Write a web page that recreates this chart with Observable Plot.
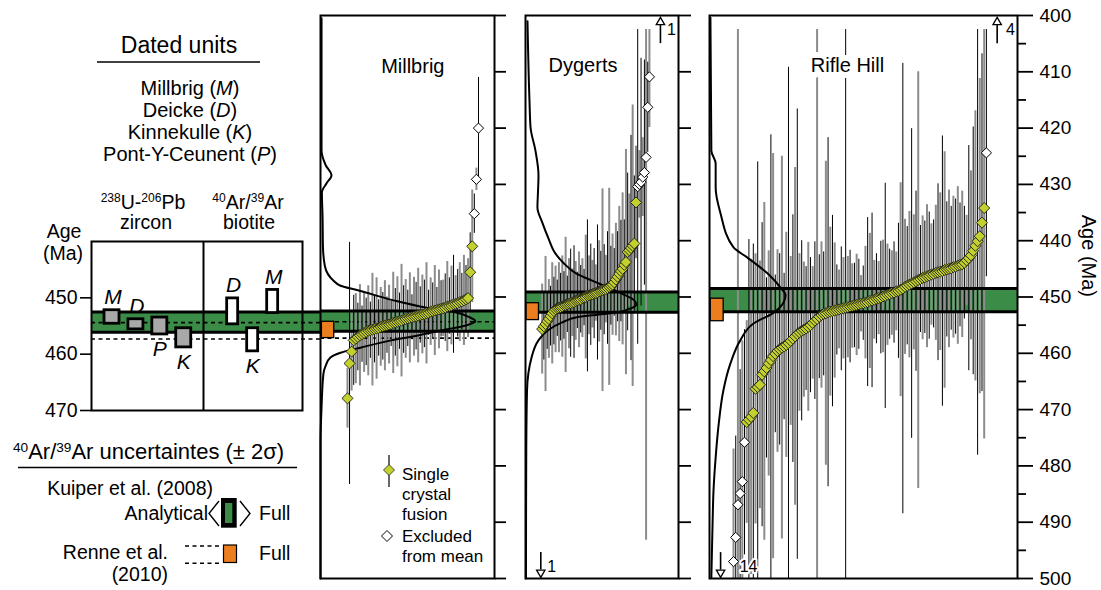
<!DOCTYPE html>
<html><head><meta charset="utf-8">
<script src="https://cdn.jsdelivr.net/npm/d3@7"></script>
<script src="https://cdn.jsdelivr.net/npm/@observablehq/plot@0.6"></script>
<style>
html,body{margin:0;padding:0;background:#fff;}
#wrap{position:relative;width:1101px;height:590px;overflow:hidden;background:#fff;font-family:"Liberation Sans",Arial,Helvetica,sans-serif;color:#000;}
.t{position:absolute;line-height:1;white-space:nowrap;}
.sup{font-size:0.62em;position:relative;top:-0.55em;}
</style></head><body><div id="wrap"></div>
<script>
// ---------------- DATA ----------------
// Left panel: dated units (ages in Ma)
const zirconUnits = ["M", "D", "P", "K"];
const zirconAgeMin = [452.2, 453.8, 453.5, 455.4];
const zirconAgeMax = [454.6, 455.6, 456.5, 458.8];
const zirconLabelSide = ["top", "top", "bottom", "bottom"];
const biotiteUnits = ["D", "K", "M"];
const biotiteAgeMin = [450.1, 455.4, 448.6];
const biotiteAgeMax = [454.7, 459.5, 452.7];
const biotiteLabelSide = ["top", "bottom", "top"];

// Kuiper et al. (2008) analytical band and Renne et al. (2010) full uncertainty per panel
const kuiperMillbrig = [452.5, 456.1];
const renneMillbrig = [454.4, 457.3];
const kuiperDygerts = [449.1, 452.7];
const renneDygerts = [451.1, 454.1];
const kuiperRifle = [448.5, 452.6];
const renneRifle = [450.3, 454.3];

// Millbrig single crystal fusion ages (ranked) and 2σ errors
const millbrigAges = [468.0, 461.8, 459.7, 457.7, 457.4, 457.1, 456.8, 456.6, 456.4, 456.2,
  456.0, 455.9, 455.8, 455.7, 455.6, 455.5, 455.3, 455.2, 455.1, 455.0,
  454.9, 454.8, 454.6, 454.5, 454.4, 454.3, 454.2, 454.0, 453.9, 453.8,
  453.7, 453.6, 453.5, 453.4, 453.3, 453.2, 453.1, 453.0, 452.9, 452.8,
  452.6, 452.5, 452.4, 452.3, 452.2, 452.1, 452.0, 451.9, 451.7, 451.6,
  451.5, 451.3, 451.2, 451.1, 450.9, 450.8, 450.6, 450.4, 450.2, 445.6,
  441.0, 435.2, 429.1, 420.0];
const millbrigErr = [5.3, 21.5, 7, 8, 8, 6, 9, 5, 7, 6,
  8, 5, 10, 6, 9, 5, 7, 6, 8, 5,
  7, 4, 9, 6, 8, 5, 10, 6, 7, 5,
  8, 4, 7, 6, 8.4, 5, 7, 6, 9, 4,
  6, 5, 8, 4, 7, 5, 5, 6, 8, 5,
  7, 8.7, 5, 6, 7, 5, 8, 6, 7, 7,
  10, 3.5, 2, 9];
const millbrigExcluded = [61, 62, 63];
const millbrigDensity = [[400.5, 0.006], [424, 0.006], [426.6, 0.03], [428.4, 0.063], [429.8, 0.035], [431.4, 0.008],
  [436, 0.012], [441, 0.014], [444.5, 0.025], [447.1, 0.075], [448, 0.115], [448.85, 0.22], [450.6, 0.42],
  [451.9, 0.61], [452.75, 0.78], [453.5, 0.85], [454.3, 0.89], [455.1, 0.83], [455.95, 0.69], [456.85, 0.56],
  [457.75, 0.40], [459, 0.23], [459.9, 0.115], [460.75, 0.057], [462.2, 0.03], [463.6, 0.017], [469.6, 0.006],
  [476, 0.0], [500, 0.0]];

// Dygerts
const dygertsAges = [455.7, 455.2, 454.8, 454.3, 453.9, 453.4, 452.9, 452.5, 452.2, 452.0,
  451.9, 451.8, 451.7, 451.5, 451.4, 451.3, 451.2, 451.1, 451.0, 450.9,
  450.7, 450.6, 450.5, 450.4, 450.2, 450.1, 450.0, 449.8, 449.7, 449.6,
  449.5, 449.4, 449.3, 449.2, 449.0, 448.9, 448.8, 448.7, 448.6, 448.4,
  448.2, 448.0, 447.8, 447.4, 446.9, 446.4, 445.9, 445.4, 445.0, 444.3,
  443.8, 442.0, 441.7, 441.3, 440.9, 440.5, 433.2, 430.4, 430.0, 429.6,
  428.7, 427.9, 425.2, 416.3, 410.9];
const dygertsErr = [8, 6, 12, 5, 7, 5.3, 9, 6, 7.7, 5,
  8, 6, 9, 6, 12, 5, 8, 9.6, 6, 10,
  7, 5, 8.5, 6, 7, 5, 11, 13.5, 7, 9,
  6, 8, 5, 12, 9, 7, 18, 8, 6, 10,
  17.5, 7, 9, 6, 10, 8, 12, 9, 13.5, 8,
  20, 14, 10, 20, 25, 12, 10, 28, 6, 22,
  7, 20, 68, 8, 9];
const dygertsExcluded = [57, 58, 59, 60, 61, 62, 63, 64];
const dygertsDensity = [[401, 0.013], [415.1, 0.026], [419.9, 0.033], [424, 0.065], [428.4, 0.085], [431.1, 0.082],
  [434.1, 0.078], [436.8, 0.11], [439.6, 0.15], [442.3, 0.196], [444, 0.25], [445.8, 0.33], [447.6, 0.48],
  [449.4, 0.63], [450.6, 0.71], [451.3, 0.725], [452, 0.69], [452.9, 0.555], [453.5, 0.35], [454.5, 0.24],
  [455.95, 0.145], [457.7, 0.085], [460.7, 0.04], [466.6, 0.01], [477.3, 0.005], [500, 0.003]];

// Rifle Hill
const rifleAges = [497.0, 492.7, 486.9, 484.9, 482.8, 475.8, 472.2, 471.8, 471.3, 470.6,
  466.3, 466.0, 465.6, 463.8, 463.2, 462.6, 461.8, 461.2, 460.5, 460.1,
  459.6, 459.3, 459.0, 458.8, 458.5, 458.2, 457.8, 457.4, 457.0, 456.6,
  456.3, 456.0, 455.8, 455.6, 455.3, 455.0, 454.6, 454.2, 453.9, 453.5,
  453.2, 453.0, 452.9, 452.7, 452.6, 452.5, 452.4, 452.3, 452.2, 452.1,
  452.0, 451.9, 451.8, 451.7, 451.6, 451.5, 451.4, 451.3, 451.2, 451.1,
  451.0, 450.9, 450.7, 450.6, 450.5, 450.3, 450.2, 450.1, 449.9, 449.8,
  449.6, 449.5, 449.3, 449.2, 449.0, 448.9, 448.7, 448.5, 448.2, 448.0,
  447.8, 447.6, 447.4, 447.2, 447.0, 446.8, 446.6, 446.5, 446.3, 446.2,
  446.0, 445.9, 445.7, 445.6, 445.5, 445.4, 445.2, 445.1, 445.0, 444.9,
  444.7, 444.6, 444.4, 444.3, 444.2, 443.9, 443.5, 443.1, 442.6, 441.8,
  440.9, 440.1, 439.2, 436.8, 434.2, 424.4];
const rifleErr = [20, 18, 90, 22, 25, 20, 18, 32, 28, 30,
  24, 40, 22, 27, 30, 16, 20, 40, 36, 14,
  18, 17, 34, 13, 20, 49, 15, 22, 30, 40,
  14, 16, 12, 11, 15, 12, 10, 14, 60, 11,
  13, 11, 27, 31, 15, 17, 12, 8, 7, 11,
  9, 60, 9, 10, 7.5, 7.5, 9, 8, 5, 6.6,
  10, 15, 12, 15.5, 7, 8, 6.5, 10, 10, 20,
  9, 8, 7.5, 9, 7, 12, 19, 40, 12, 10.5,
  13, 27.5, 12, 16, 37, 9.5, 11, 10, 12.7, 11.3,
  9, 9.6, 12, 15.7, 14, 24, 21, 12, 14, 11,
  12.6, 12, 14, 11, 13, 10, 8, 20, 15, 22,
  24, 38, 28, 30, 41, 22];
const rifleExcluded = [0, 1, 2, 3, 4, 5, 115];
const rifleDensity = [[400.4, 0.003], [424, 0.006], [426.3, 0.02], [430.6, 0.02], [435.2, 0.036], [441.2, 0.078],
  [443, 0.123], [445.8, 0.188], [448.3, 0.23], [449.7, 0.247], [451, 0.24], [452.9, 0.205], [454.7, 0.143],
  [457.7, 0.1], [461.8, 0.068], [466.6, 0.045], [472.5, 0.03], [478.5, 0.02], [484.4, 0.013], [490.2, 0.01],
  [499.8, 0.006]];

// Off-scale counts (arrows)
const dygertsOffscale = [{n: "1", up: true}, {n: "1", up: false}];
const rifleOffscale = [{n: "4", up: true}, {n: "14", up: false}];

const ageTicks = d3.range(400, 501, 10);
const ageMinorTicks = d3.range(405, 500, 10);
const leftTicks = [450, 460, 470];

// ---------------- STYLE / LAYOUT ----------------
const GREEN = "#3a8c47", ORANGE = "#ec7e1f", YELLOW = "#c3d12f", GREY = "#8c8c8c";
const FONT = '"Liberation Sans", Arial, Helvetica, sans-serif';
const L = {
  clipTop: 402.5,
  ext: 229 / 211, divider: 112 / 211,
  zFirst: 0.0972, zStep: 0.1133, zW: 0.0711,
  bFirst: 0.669, bStep: 0.0948, bW: 0.052
};
const wrap = document.getElementById("wrap");
function mount(svg, left) {
  svg.style.position = "absolute";
  svg.style.left = left + "px";
  svg.style.top = "0px";
  svg.style.background = "transparent";
  svg.style.overflow = "visible";
  svg.style.maxWidth = "none";
  svg.style.fontFamily = FONT;
  wrap.appendChild(svg);
}
function txt(html, x, y, size, anchor = "middle", extra = "") {
  const d = document.createElement("div");
  d.className = "t";
  d.innerHTML = html;
  const tx = anchor === "middle" ? "-50%" : anchor === "end" ? "-100%" : "0";
  d.style.cssText += `left:${x}px;top:${y}px;transform:translate(${tx},-50%);font-size:${size}px;${extra}`;
  wrap.appendChild(d);
}

// ---------------- LEFT PANEL ----------------
const zRows = zirconUnits.map((u, k) => ({u, c: L.zFirst + k * L.zStep, w: L.zW, y1: zirconAgeMin[k], y2: zirconAgeMax[k], side: zirconLabelSide[k]}));
const bRows = biotiteUnits.map((u, k) => ({u, c: L.bFirst + k * L.bStep, w: L.bW, y1: biotiteAgeMin[k], y2: biotiteAgeMax[k], side: biotiteLabelSide[k]}));
const allRows = zRows.concat(bRows);

const leftPlot = Plot.plot({
  width: 320, height: 590, marginTop: 241, marginBottom: 180, marginLeft: 91, marginRight: 18,
  x: {domain: [0, 1], axis: null},
  y: {domain: [440, 470], reverse: true, axis: null},
  marks: [
    Plot.rect([kuiperMillbrig], {x1: 0, x2: L.ext, y1: d => d[0], y2: d => d[1], fill: GREEN}),
    Plot.ruleY(renneMillbrig, {x1: 0, x2: L.ext, strokeDasharray: "4,3.5", strokeWidth: 1.6}),
    Plot.ruleY(kuiperMillbrig, {x1: 0, x2: L.ext, strokeWidth: 3}),
    Plot.ruleX([L.divider], {strokeWidth: 2}),
    Plot.rect(zRows, {x1: d => d.c - d.w / 2, x2: d => d.c + d.w / 2, y1: "y1", y2: "y2", fill: "#a9a9a9", stroke: "#000", strokeWidth: 2.8}),
    Plot.rect(bRows, {x1: d => d.c - d.w / 2, x2: d => d.c + d.w / 2, y1: "y1", y2: "y2", fill: "#fff", stroke: "#000", strokeWidth: 2.8}),
    Plot.text(allRows.filter(d => d.side === "top"), {x: "c", y: "y1", text: "u", dy: -13, dx: 1, fontStyle: "italic", fontSize: 21}),
    Plot.text(allRows.filter(d => d.side === "bottom"), {x: "c", y: "y2", text: "u", dy: 15, fontStyle: "italic", fontSize: 21}),
    Plot.axisY({anchor: "left", ticks: leftTicks, tickSize: 11, tickPadding: 3, fontSize: 19.5, label: null, strokeWidth: 1.6}),
    Plot.frame({strokeWidth: 2})
  ]
});
mount(leftPlot, 0);

// ---------------- MAIN PANELS ----------------
function panel(cfg) {
  const n = cfg.ages.length;
  const rows = cfg.ages.map((a, i) => ({
    i, x: cfg.f0 + (cfg.f1 - cfg.f0) * i / (n - 1), age: a,
    lo: Math.max(a - cfg.errs[i], L.clipTop), hi: Math.min(a + cfg.errs[i], 500),
    excluded: cfg.excluded.includes(i)
  }));
  const dens = cfg.density.map(([age, f]) => ({age, f}));
  const marks = [Plot.rect([cfg.kuiper], {x1: 0, x2: 1, y1: d => d[0], y2: d => d[1], fill: GREEN})];
  if (cfg.renneLines) marks.push(Plot.ruleY(cfg.renneLines, {strokeDasharray: "4,3.5", strokeWidth: 1.6}));
  marks.push(
    Plot.ruleX(rows.filter(d => d.i % 2 === 0), {x: "x", y1: "lo", y2: "hi", stroke: GREY, strokeWidth: 2}),
    Plot.ruleX(rows.filter(d => d.i % 2 === 1), {x: "x", y1: "lo", y2: "hi", stroke: "#000", strokeWidth: 1}),
    Plot.ruleY(cfg.kuiper, {strokeWidth: 3}),
    Plot.rect([cfg.renne], {x1: cfg.orangeX[0], x2: cfg.orangeX[1], y1: d => d[0], y2: d => d[1], fill: ORANGE, stroke: "#000", strokeWidth: 1.3}),
    Plot.line(dens, {x: "f", y: "age", curve: "monotone-y", strokeWidth: 2}),
    Plot.dot(rows.filter(d => !d.excluded), {x: "x", y: "age", symbol: "diamond2", r: 5, fill: YELLOW, stroke: "#1a1a1a", strokeWidth: 0.9}),
    Plot.dot(rows.filter(d => d.excluded), {x: "x", y: "age", symbol: "diamond2", r: 4.6, fill: "#fff", stroke: "#000", strokeWidth: 1}),
    Plot.text([cfg.title], {text: d => d, frameAnchor: "top-left", textAnchor: "middle", dx: cfg.titleDx, dy: cfg.titleDy, fontSize: 20, fill: "#000", stroke: cfg.halo ? "#fff" : null, strokeWidth: 12})
  );
  if (cfg.arrows) {
    const A = cfg.arrows;
    marks.push(
      Plot.ruleX(A, {x: "x", y1: "tail", y2: "base", strokeWidth: 1.6}),
      Plot.dot(A, {x: "x", y: "head", symbol: "triangle2", r: 4, rotate: d => d.up ? 0 : 180, fill: "#fff", stroke: "#000", strokeWidth: 1.3}),
      Plot.text(A, {x: "lx", y: "ly", text: "n", fontSize: 16, fill: "#000", stroke: "#fff", strokeWidth: 4})
    );
  }
  marks.push(...cfg.axes, Plot.frame({strokeWidth: 2}));
  const p = Plot.plot({
    width: cfg.width, height: 590, marginTop: 15, marginBottom: 12, marginLeft: 4, marginRight: cfg.marginRight,
    x: {domain: [0, 1], axis: null},
    y: {domain: [400, 500], reverse: true, axis: null},
    marks
  });
  mount(p, cfg.left);
}

// arrow geometry for off-scale counts (position in panel fraction / age)
function arrowRows(list, upX, downX, upLabelX, downLabelX) {
  return list.map(d => d.up
    ? {n: d.n, up: true, x: upX, tail: 405.0, base: 401.7, head: 401.2, lx: upLabelX, ly: 402.6}
    : {n: d.n, up: false, x: downX, tail: 495.4, base: 498.5, head: 498.95, lx: downLabelX, ly: 497.9});
}

panel({
  ages: millbrigAges, errs: millbrigErr, excluded: millbrigExcluded, density: millbrigDensity,
  f0: 0.155, f1: 0.908, kuiper: kuiperMillbrig, renne: renneMillbrig, renneLines: renneMillbrig,
  orangeX: [0.008, 0.079], title: "Millbrig", titleDx: 92.3, titleDy: 43, halo: false,
  width: 204, marginRight: 26, left: 316,
  axes: [Plot.axisY({anchor: "right", ticks: ageTicks, tickSize: 11, tickFormat: () => "", label: null, strokeWidth: 1.8})]
});
panel({
  ages: dygertsAges, errs: dygertsErr, excluded: dygertsExcluded, density: dygertsDensity,
  f0: 0.109, f1: 0.81, kuiper: kuiperDygerts, renne: renneDygerts,
  orangeX: [0.006, 0.088], title: "Dygerts", titleDx: 57.5, titleDy: 42, halo: false,
  arrows: arrowRows(dygertsOffscale, 0.882, 0.1, 0.954, 0.172),
  width: 179, marginRight: 22, left: 521,
  axes: [Plot.axisY({anchor: "right", ticks: ageTicks, tickSize: 12, tickFormat: () => "", label: null, strokeWidth: 1.8})]
});
panel({
  ages: rifleAges, errs: rifleErr, excluded: rifleExcluded, density: rifleDensity,
  f0: 0.078, f1: 0.899, kuiper: kuiperRifle, renne: renneRifle,
  orangeX: [0.004, 0.046], title: "Rifle Hill", titleDx: 138, titleDy: 42.5, halo: true,
  arrows: arrowRows(rifleOffscale, 0.934, 0.036, 0.977, 0.127),
  width: 396, marginRight: 84, left: 705,
  axes: [
    Plot.axisY({anchor: "right", ticks: ageTicks, tickSize: 15, tickPadding: 7, fontSize: 19, label: null, strokeWidth: 1.8}),
    Plot.axisY({anchor: "right", ticks: ageMinorTicks, tickSize: 8, tickFormat: () => "", label: null, strokeWidth: 1.8}),
    Plot.text(["Age (Ma)"], {text: d => d, frameAnchor: "right", dx: 71, rotate: 90, fontSize: 20, fill: "#000"})
  ]
});

// ---------------- LEGEND / HEADER DECORATIONS ----------------
const deco = `<svg width="1101" height="590" style="position:absolute;left:0;top:0;pointer-events:none;overflow:visible">
  <line x1="97" x2="260" y1="62" y2="62" stroke="#000" stroke-width="1.5"/>
  <line x1="18" x2="297" y1="467.5" y2="467.5" stroke="#000" stroke-width="1.5"/>
  <polyline points="219,501 209,513.5 219,526" fill="none" stroke="#000" stroke-width="1.4"/>
  <rect x="221" y="498" width="15.7" height="29.7" fill="#000"/>
  <rect x="225" y="503" width="7.3" height="20" fill="${GREEN}"/>
  <polyline points="240,501 250,513.5 240,526" fill="none" stroke="#000" stroke-width="1.4"/>
  <line x1="185" x2="220" y1="546" y2="546" stroke="#000" stroke-width="1.6" stroke-dasharray="4,3.5"/>
  <line x1="185" x2="220" y1="563.3" y2="563.3" stroke="#000" stroke-width="1.6" stroke-dasharray="4,3.5"/>
  <rect x="223.5" y="545" width="13" height="17.5" fill="${ORANGE}" stroke="#000" stroke-width="1.2"/>
  <line x1="389" x2="389" y1="455" y2="487" stroke="#000" stroke-width="1.2"/>
  <polygon points="389,464.5 394.5,470 389,475.5 383.5,470" fill="${YELLOW}" stroke="#222" stroke-width="0.8"/>
  <polygon points="387,530.5 392.5,536 387,541.5 381.5,536" fill="#fff" stroke="#000" stroke-width="1"/>
</svg>`;
wrap.insertAdjacentHTML("beforeend", deco);

txt("Dated units", 179, 45, 23);
txt("Millbrig (<i>M</i>)", 190, 88, 20);
txt("Deicke (<i>D</i>)", 190, 110, 20);
txt("Kinnekulle (<i>K</i>)", 190, 132, 20);
txt("Pont-Y-Ceunent (<i>P</i>)", 190, 154, 20);
txt('<span class="sup">238</span>U-<span class="sup">206</span>Pb', 143, 203, 19.5);
txt("zircon", 146, 223, 19.5);
txt('<span class="sup">40</span>Ar/<span class="sup">39</span>Ar', 248, 203, 19.5);
txt("biotite", 249, 223, 19.5);
txt("Age", 64, 232, 19.5);
txt("(Ma)", 63, 254, 19.5);

txt('<span class="sup">40</span>Ar/<span class="sup">39</span>Ar uncertaintes (± 2σ)', 13, 452, 22, "start");
txt("Kuiper et al. (2008)", 213, 489, 19.5, "end");
txt("Analytical", 208, 514, 19.5, "end");
txt("Full", 259, 514, 19.5, "start");
txt("Renne et al.", 168, 553, 19.5, "end");
txt("(2010)", 168, 575, 19.5, "end");
txt("Full", 259, 554, 19.5, "start");

txt("Single", 402, 474, 17, "start");
txt("crystal", 402, 494, 17, "start");
txt("fusion", 402, 514, 17, "start");
txt("Excluded", 402, 536, 17, "start");
txt("from mean", 402, 556, 17, "start");
</script></body></html>
